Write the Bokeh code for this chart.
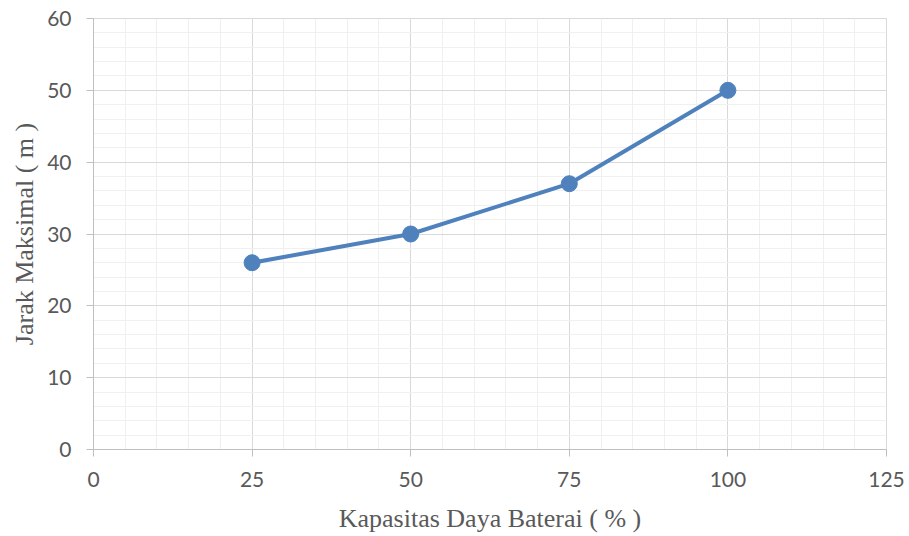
from bokeh.plotting import figure
from bokeh.models import Range1d, SingleIntervalTicker
from bokeh.embed import file_html
from bokeh.resources import INLINE

# Battery capacity (%) versus maximum range (m)
kapasitas = [25, 50, 75, 100]
jarak = [26, 30, 37, 50]

x_ticks = [0, 25, 50, 75, 100, 125]
y_ticks = [0, 10, 20, 30, 40, 50, 60]

LINE = "#4f81bd"
TEXT = "#595959"
MAJOR = "#d9d9d9"
MINOR = "#f0f0f0"
AXIS = "#bfbfbf"

p = figure(width=909, height=536, output_backend="svg", toolbar_location=None,
           x_range=Range1d(x_ticks[0], x_ticks[-1]), y_range=Range1d(y_ticks[0], y_ticks[-1]),
           min_border_left=93, min_border_right=23, min_border_top=18, min_border_bottom=87)
p.background_fill_color = "white"
p.border_fill_color = "white"
p.outline_line_color = MAJOR
p.outline_line_width = 1

p.xaxis.ticker = SingleIntervalTicker(interval=25, num_minor_ticks=5)
p.yaxis.ticker = SingleIntervalTicker(interval=10, num_minor_ticks=5)

for g in (p.xgrid[0], p.ygrid[0]):
    g.grid_line_color = MAJOR
    g.grid_line_width = 1
    g.minor_grid_line_color = MINOR
    g.minor_grid_line_width = 1

for ax in (p.xaxis[0], p.yaxis[0]):
    ax.axis_line_color = AXIS
    ax.axis_line_width = 1
    ax.major_tick_line_color = AXIS
    ax.major_tick_in = 0
    ax.major_tick_out = 7
    ax.minor_tick_in = 0
    ax.minor_tick_out = 0
    ax.major_label_text_font = "Lato"
    ax.major_label_text_font_size = "21px"
    ax.major_label_text_color = TEXT
    ax.axis_label_text_font = "Liberation Serif"
    ax.axis_label_text_font_size = "26px"
    ax.axis_label_text_font_style = "normal"
    ax.axis_label_text_color = TEXT

p.xaxis.axis_label = "Kapasitas Daya Baterai ( % )"
p.yaxis.axis_label = "Jarak Maksimal ( m )"
p.xaxis.major_label_standoff = 15
p.yaxis.major_label_standoff = 15
p.xaxis.axis_label_standoff = 14
p.yaxis.axis_label_standoff = 5

p.line(kapasitas, jarak, line_color=LINE, line_width=4)
p.scatter(kapasitas, jarak, size=16, fill_color=LINE, line_color=LINE)

open("out.html", "w").write(file_html(p, INLINE))
